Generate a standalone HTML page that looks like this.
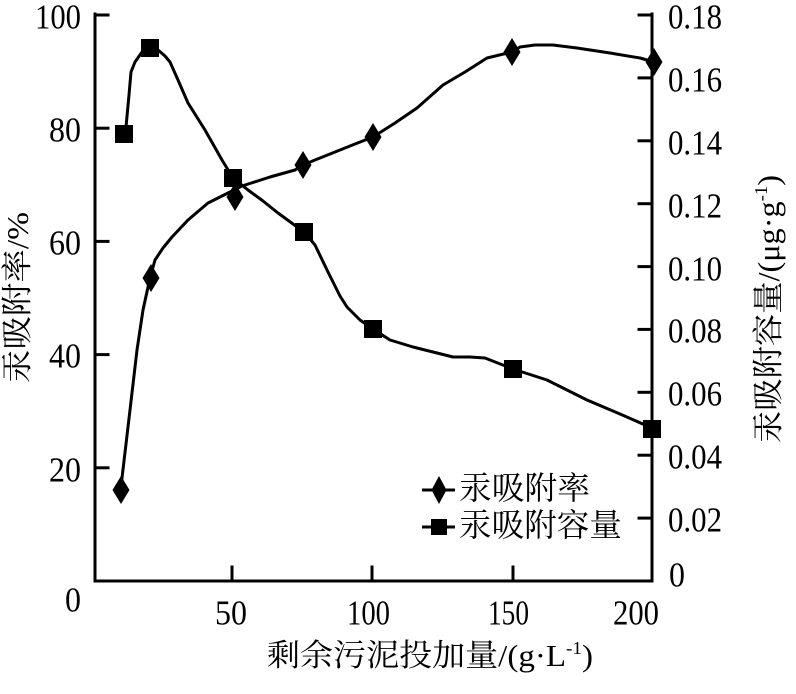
<!DOCTYPE html>
<html>
<head>
<meta charset="utf-8">
<style>
html,body{margin:0;padding:0;background:#fff;}
svg{display:block;}
text{font-family:"Liberation Serif","Noto Serif CJK SC","Noto Sans CJK SC",serif;fill:#000;}
</style>
</head>
<body>
<svg width="796" height="694" viewBox="0 0 796 694" xmlns="http://www.w3.org/2000/svg">
<rect width="796" height="694" fill="#fff"/>
<!-- axes -->
<g stroke="#000" stroke-width="3" fill="none" stroke-linecap="square">
  <polyline points="95,14 95,581 652,581 652,14"/>
  <line x1="95" y1="15" x2="108" y2="15"/>
  <line x1="95" y1="128.2" x2="108" y2="128.2"/>
  <line x1="95" y1="241.4" x2="108" y2="241.4"/>
  <line x1="95" y1="354.6" x2="108" y2="354.6"/>
  <line x1="95" y1="467.8" x2="108" y2="467.8"/>
  <line x1="639" y1="15" x2="652" y2="15"/>
  <line x1="639" y1="77.9" x2="652" y2="77.9"/>
  <line x1="639" y1="140.8" x2="652" y2="140.8"/>
  <line x1="639" y1="203.7" x2="652" y2="203.7"/>
  <line x1="639" y1="266.6" x2="652" y2="266.6"/>
  <line x1="639" y1="329.4" x2="652" y2="329.4"/>
  <line x1="639" y1="392.3" x2="652" y2="392.3"/>
  <line x1="639" y1="455.2" x2="652" y2="455.2"/>
  <line x1="639" y1="518.1" x2="652" y2="518.1"/>
  <line x1="232" y1="581" x2="232" y2="567"/>
  <line x1="372" y1="581" x2="372" y2="567"/>
  <line x1="513" y1="581" x2="513" y2="567"/>
</g>

<!-- left tick labels -->
<g font-size="35" dominant-baseline="central" lengthAdjust="spacingAndGlyphs">
  <text x="35" y="17" textLength="46" lengthAdjust="spacingAndGlyphs">100</text>
  <text x="49" y="130" textLength="32" lengthAdjust="spacingAndGlyphs">80</text>
  <text x="49" y="243" textLength="32" lengthAdjust="spacingAndGlyphs">60</text>
  <text x="49" y="356" textLength="32" lengthAdjust="spacingAndGlyphs">40</text>
  <text x="49" y="470" textLength="32" lengthAdjust="spacingAndGlyphs">20</text>
  <text x="65" y="600" textLength="16" lengthAdjust="spacingAndGlyphs">0</text>
</g>
<!-- right tick labels -->
<g font-size="35" dominant-baseline="central">
  <text x="668" y="17" textLength="54" lengthAdjust="spacingAndGlyphs">0.18</text>
  <text x="668" y="80" textLength="54" lengthAdjust="spacingAndGlyphs">0.16</text>
  <text x="668" y="143" textLength="54" lengthAdjust="spacingAndGlyphs">0.14</text>
  <text x="668" y="206" textLength="54" lengthAdjust="spacingAndGlyphs">0.12</text>
  <text x="668" y="269" textLength="54" lengthAdjust="spacingAndGlyphs">0.10</text>
  <text x="668" y="331" textLength="54" lengthAdjust="spacingAndGlyphs">0.08</text>
  <text x="668" y="394" textLength="54" lengthAdjust="spacingAndGlyphs">0.06</text>
  <text x="668" y="457" textLength="54" lengthAdjust="spacingAndGlyphs">0.04</text>
  <text x="668" y="520" textLength="54" lengthAdjust="spacingAndGlyphs">0.02</text>
  <text x="669" y="575" textLength="16" lengthAdjust="spacingAndGlyphs">0</text>
</g>
<!-- bottom tick labels -->
<g font-size="35" dominant-baseline="central">
  <text x="215" y="613" textLength="32" lengthAdjust="spacingAndGlyphs">50</text>
  <text x="347" y="613" textLength="43" lengthAdjust="spacingAndGlyphs">100</text>
  <text x="488" y="613" textLength="41" lengthAdjust="spacingAndGlyphs">150</text>
  <text x="613" y="613" textLength="46" lengthAdjust="spacingAndGlyphs">200</text>
</g>

<!-- axis titles -->
<text x="267" y="666" font-size="31" textLength="326" lengthAdjust="spacingAndGlyphs">剩余污泥投加量/(g·L<tspan font-size="18" dy="-12">-1</tspan><tspan dy="12">)</tspan></text>

<text transform="translate(28,383) rotate(-90)" x="0" y="0" font-size="31" textLength="171" lengthAdjust="spacingAndGlyphs">汞吸附率/%</text>

<text transform="translate(779,443) rotate(-90)" x="0" y="0" font-size="31" textLength="268" lengthAdjust="spacingAndGlyphs">汞吸附容量/(μg·g<tspan font-size="18" dy="-12">-1</tspan><tspan dy="12">)</tspan></text>

<!-- series curves -->
<g fill="none" stroke="#000" stroke-width="3" stroke-linejoin="round" stroke-linecap="round">
  <polyline points="124,133 126,127 129,95 131,72 135,62 142,52 150,47 158,50 165,56 170,62 178,80 188,103 205,130 222,160 233,178 248,190 263,201 278,213 304,232 315,245 328,272 340,296 347,307 360,320 373,329 390,340 413,347 433,352 453,357 470,357 485,358 513,369 547,380 587,400 620,414 652,428"/>
  <polyline points="121,490 122,478 130,410 137,350 143,310 150,278 155,260 163,248 172,237 188,220 208,203 228,193 242,186 270,177 295,170 303,165 315,160 335,152 355,144 373,137 395,123 417,108 443,85 465,72 487,58 512,52 520,47 535,45 553,45 577,48 610,53 640,58 654,62"/>
</g>

<!-- markers: diamonds -->
<g fill="#000">
  <polygon points="121,476 129.5,490 121,504 112.5,490"/>
  <polygon points="151,264 159.5,278 151,292 142.5,278"/>
  <polygon points="235,183 243.5,197 235,211 226.5,197"/>
  <polygon points="303,151 311.5,165 303,179 294.5,165"/>
  <polygon points="373,123 381.5,137 373,151 364.5,137"/>
  <polygon points="512,38 520.5,52 512,66 503.5,52"/>
  <polygon points="654,48 662.5,62 654,76 645.5,62"/>
</g>
<!-- markers: squares -->
<g fill="#000">
  <rect x="115" y="125" width="18" height="18"/>
  <rect x="141" y="39" width="18" height="18"/>
  <rect x="224" y="169" width="18" height="18"/>
  <rect x="295" y="223" width="18" height="18"/>
  <rect x="364" y="320" width="18" height="18"/>
  <rect x="504" y="360" width="18" height="18"/>
  <rect x="643" y="420" width="18" height="18"/>
</g>

<!-- legend -->
<g stroke="#000" stroke-width="3">
  <line x1="422" y1="490" x2="455" y2="490"/>
  <line x1="422" y1="527" x2="455" y2="527"/>
</g>
<polygon points="439,476 446.5,490 439,504 431.5,490" fill="#000"/>
<rect x="431" y="519" width="16" height="16" fill="#000"/>
<text x="459" y="499" font-size="32" textLength="131" lengthAdjust="spacingAndGlyphs">汞吸附率</text>
<text x="459" y="536" font-size="32" textLength="163" lengthAdjust="spacingAndGlyphs">汞吸附容量</text>
</svg>
</body>
</html>
